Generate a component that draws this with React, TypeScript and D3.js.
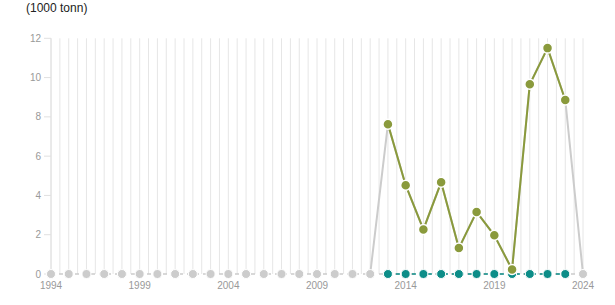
import React from "react";
import * as d3 from "d3";

const allYears: number[] = d3.range(1994, 2025);
const greenYears: number[] = [2013, 2014, 2015, 2016, 2017, 2018, 2019, 2020, 2021, 2022, 2023];
const greenValues: number[] = [7.63, 4.52, 2.27, 4.67, 1.32, 3.16, 1.97, 0.23, 9.66, 11.5, 8.86];
const grayLineYears: number[] = [2012, 2013, 2014, 2015, 2016, 2017, 2018, 2019, 2020, 2021, 2022, 2023, 2024];
const grayLineValues: number[] = [0, 7.63, 4.52, 2.27, 4.67, 1.32, 3.16, 1.97, 0.23, 9.66, 11.5, 8.86, 0];
const grayDotYears: number[] = [1994, 1995, 1996, 1997, 1998, 1999, 2000, 2001, 2002, 2003, 2004, 2005, 2006, 2007, 2008, 2009, 2010, 2011, 2012, 2024];
const tealYears: number[] = greenYears;
const tealValues: number[] = [0, 0, 0, 0, 0, 0, 0, 0, 0, 0, 0];
const yTicks: number[] = [0, 2, 4, 6, 8, 10, 12];
const xTickLabels: number[] = [1994, 1999, 2004, 2009, 2014, 2019, 2024];
const unitLabel = "(1000 tonn)";

const GREEN = "#8a9a3c";
const TEAL = "#0c8d88";
const GRAY = "#cccccc";

export default function App() {
  const x = d3.scaleLinear().domain([1994, 2024]).range([51, 583]);
  const y = d3.scaleLinear().domain([0, 12]).range([274, 38.3]);
  const gridVals = d3.range(0, 61).map((i) => 1994 + i * 0.5);
  const line = d3.line<[number, number]>().x((d) => x(d[0])).y((d) => y(d[1]));
  const font = "'Liberation Sans', Arial, sans-serif";
  const zeroLine = line(allYears.map((yr) => [yr, 0] as [number, number])) || "";
  const grayPath = line(grayLineYears.map((yr, i) => [yr, grayLineValues[i]] as [number, number])) || "";
  const tealPath = line(tealYears.map((yr, i) => [yr, tealValues[i]] as [number, number])) || "";
  const greenPath = line(greenYears.map((yr, i) => [yr, greenValues[i]] as [number, number])) || "";
  return (
    <svg width={615} height={305} style={{ position: "absolute", left: 0, top: 0, background: "#fff" }}>
      <text x={26} y={11.5} fontFamily={font} fontSize={12} fill="#222">{unitLabel}</text>
      {gridVals.map((g, i) => (
        <line key={"g" + i} x1={x(g)} x2={x(g)} y1={y(12)} y2={y(0)} stroke="#e6e6e6" strokeWidth={1} />
      ))}
      <line x1={x(1994)} x2={x(1994)} y1={y(12)} y2={y(0)} stroke="#e0e0e0" strokeWidth={1} />
      {yTicks.map((t) => (
        <g key={"y" + t}>
          <line x1={44} x2={51} y1={y(t)} y2={y(t)} stroke="#e0e0e0" strokeWidth={1} />
          <text x={41} y={y(t)} dy="0.35em" textAnchor="end" fontFamily={font} fontSize={10} fill="#999">{t}</text>
        </g>
      ))}
      {xTickLabels.map((t) => (
        <text key={"x" + t} x={x(t)} y={289} textAnchor="middle" fontFamily={font} fontSize={10} fill="#999">{t}</text>
      ))}
      <path d={zeroLine} fill="none" stroke={GRAY} strokeWidth={1.5} strokeDasharray="4,4" />
      <path d={grayPath} fill="none" stroke={GRAY} strokeWidth={2} />
      {grayDotYears.map((yr) => (
        <circle key={"gd" + yr} cx={x(yr)} cy={y(0)} r={4.5} fill={GRAY} stroke="#fff" strokeWidth={1} />
      ))}
      <path d={tealPath} fill="none" stroke={TEAL} strokeWidth={1.5} strokeDasharray="4,4" />
      {tealYears.map((yr, i) => (
        <circle key={"td" + yr} cx={x(yr)} cy={y(tealValues[i])} r={4.5} fill={TEAL} stroke="#fff" strokeWidth={1} />
      ))}
      <path d={greenPath} fill="none" stroke={GREEN} strokeWidth={2} />
      {greenYears.map((yr, i) => (
        <circle key={"gr" + yr} cx={x(yr)} cy={y(greenValues[i])} r={5} fill={GREEN} stroke="#fff" strokeWidth={1.5} />
      ))}
    </svg>
  );
}
